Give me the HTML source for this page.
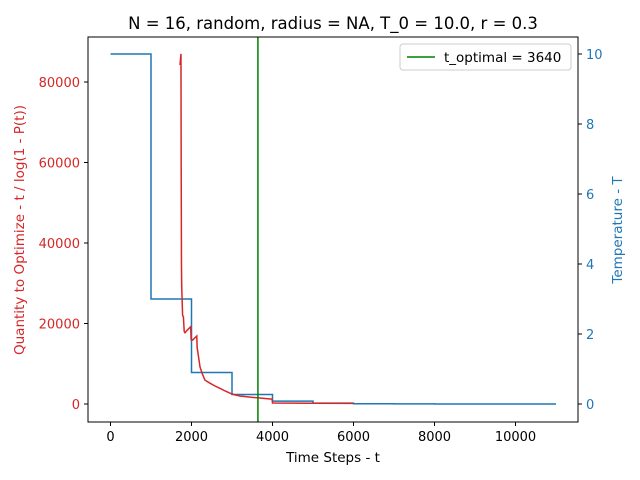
<!DOCTYPE html>
<html><head><meta charset="utf-8"><style>body{margin:0;background:#fff}svg{display:block;font-family:"DejaVu Sans","Liberation Sans",sans-serif}</style></head>
<body>
<svg id="chart" width="640" height="480" xmlns="http://www.w3.org/2000/svg">
<rect width="640" height="480" fill="#fff"/>
<text x="333" y="29" font-size="16.5" text-anchor="middle">N = 16, random, radius = NA, T_0 = 10.0, r = 0.3</text>
<g id="plot"></g>
<text x="333" y="462" font-size="13.5" text-anchor="middle">Time Steps - t</text>
<text transform="translate(24,230) rotate(-90)" font-size="13.5" fill="#d62728" text-anchor="middle">Quantity to Optimize - t / log(1 - P(t))</text>
<text transform="translate(622,230) rotate(-90)" font-size="13.5" fill="#1f77b4" text-anchor="middle">Temperature - T</text>
<g>
<rect x="400" y="44" width="171" height="26" rx="3" fill="#fff" stroke="#ccc"/>
<line x1="407" y1="57" x2="435" y2="57" stroke="green" stroke-width="1.5"/>
<text x="444" y="62" font-size="13.5">t_optimal = 3640</text>
</g>
</svg>
<script>
const xTicks=[0,2000,4000,6000,8000,10000];
const leftTicks=[0,20000,40000,60000,80000];
const rightTicks=[0,2,4,6,8,10];
const tempSteps=[0,1000,2000,3000,4000,5000,6000,7000,8000,9000,10000,11000];
const tempValues=[10,3,0.9,0.27,0.081,0.0243,0.0073,0.0022,0.00066,0.0002,0.00006,0.00006];
const qT=[1716,1740,1745,1750,1752,1758,1762,1780,1800,1820,1840,1900,1980,1990,2030,2130,2140,2160,2210,2260,2330,2450,2580,2700,2830,3000,3100,3200,3450,3690,3940,3990,4000,5000,6000];
const qV=[84200,87000,60000,43000,35000,29140,28000,22000,21690,18000,17700,18400,19200,16000,15900,16900,14000,12670,9200,7700,5960,5200,4470,3900,3230,2480,2200,1990,1700,1490,1240,1240,250,200,150];
const tOptimal=3640;
const X=t=>110.5+t*0.0405, YL=v=>404-v*80.5/20000, YR=v=>404-v*35;
const NS='http://www.w3.org/2000/svg', g=document.getElementById('plot');
function mk(tag,attrs,parent){const e=document.createElementNS(NS,tag);for(const k in attrs)e.setAttribute(k,attrs[k]);(parent||g).appendChild(e);return e;}
let d='';
for(let i=0;i<tempSteps.length-1;i++){d+=(i?'L':'M')+X(tempSteps[i])+' '+YR(tempValues[i])+'L'+X(tempSteps[i+1])+' '+YR(tempValues[i]);}
const tl=mk('path',{d:d,fill:'none',stroke:'#1f77b4','stroke-width':1.5});


let d2='';
qT.forEach((t,i)=>{d2+=(i?'L':'M')+X(t)+' '+YL(qV[i]);});
const ql=mk('path',{d:d2,fill:'none',stroke:'#d62728','stroke-width':1.5});


const ol=mk('line',{x1:X(tOptimal),x2:X(tOptimal),y1:37,y2:422,stroke:'green','stroke-width':1.5});


const fr=mk('rect',{x:88,y:37,width:490,height:385,fill:'none',stroke:'#000','stroke-width':1});


xTicks.forEach(t=>{mk('line',{x1:X(t),x2:X(t),y1:422,y2:426,stroke:'#000'});
const tx=mk('text',{x:X(t),y:441,'font-size':13,'text-anchor':'middle'});tx.textContent=t;

});
leftTicks.forEach(v=>{mk('line',{x1:84,x2:88,y1:YL(v),y2:YL(v),stroke:'#000'});
const tx=mk('text',{x:80,y:YL(v)+5,'font-size':13,'text-anchor':'end',fill:'#d62728'});tx.textContent=v;

});
rightTicks.forEach(v=>{mk('line',{x1:578,x2:582,y1:YR(v),y2:YR(v),stroke:'#000'});
const tx=mk('text',{x:586,y:YR(v)+5,'font-size':13,fill:'#1f77b4'});tx.textContent=v;

});
</script>
</body></html>
